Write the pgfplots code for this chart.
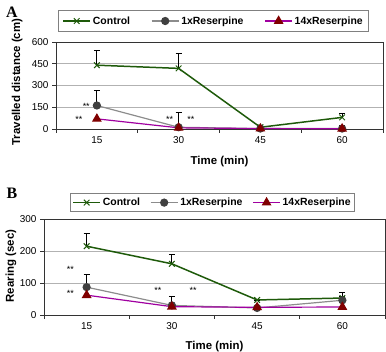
\documentclass[border=0pt]{standalone}
\usepackage{pgfplots}
\pgfplotsset{compat=1.18}
\usepackage{fontspec}
\setmainfont{Liberation Sans}
\newfontfamily\serifb{Liberation Serif}
\definecolor{cgreen}{RGB}{30,90,10}
\definecolor{cgrayline}{RGB}{140,140,140}
\definecolor{cgraymark}{RGB}{64,64,64}
\definecolor{cpurple}{RGB}{160,0,160}
\definecolor{cdred}{RGB}{128,0,0}
\pgfplotsset{
  common/.style={
    scale only axis, anchor=south west,
    xmin=-0.5, xmax=3.5, ymin=0,
    xtick={0,1,2,3}, xticklabels={15,30,45,60},
    minor xtick={-0.5,0.5,1.5,2.5,3.5},
    major x tick style={draw=none},
    minor tick length=4bp, major tick length=4bp,
    tick align=outside, xtick pos=bottom, ytick pos=left,
    ymajorgrids, grid style={gray!60, line width=0.8pt},
    axis line style={black!80, line width=0.8pt},
    tick style={black!80, line width=0.8pt},
    clip=false,
    tick label style={font=\fontsize{10}{12}\selectfont},
    /pgf/number format/assume math mode=true,
    label style={font=\fontsize{11.5}{13}\selectfont\bfseries},
    xlabel={Time (min)},
    legend columns=3,
    legend cell align=left,
    legend image code/.code={\draw[mark repeat=2,mark phase=2] plot coordinates {(0bp,0bp)(13.5bp,0bp)(27bp,0bp)};},
  },
  ctrl/.style={color=cgreen, line width=1.5pt, mark=x, mark size=4bp, mark options={solid, line width=1pt}},
  onex/.style={color=cgrayline, line width=1.2pt, mark=*, mark size=3.5bp, mark options={solid, fill=cgraymark, draw=cgraymark}},
  fourt/.style={color=cpurple, line width=1.2pt, mark=triangle*, mark size=4.5bp, mark options={solid, fill=cdred, draw=cdred}},
  ebar/.style={error bars/.cd, y dir=plus, y explicit, error bar style={black, line width=0.8pt}, error mark options={rotate=90, black, mark size=3bp, line width=0.8pt}},
}
\begin{document}
\begin{tikzpicture}
\useasboundingbox (0,0) rectangle (386bp,352bp);
% Panel A
\begin{axis}[common,
  at={(56bp,223bp)}, width=327bp, height=87bp,
  ymax=600, ytick={0,150,300,450,600},
  ylabel={Travelled distance (cm)},
  ylabel style={at={(axis description cs:-0.119,0.54)}, anchor=center},
  xlabel style={at={(axis description cs:0.5,-0.37)}, anchor=center},
  legend style={at={(axis description cs:0.006,1.368)}, anchor=north west, draw=gray, line width=1pt, fill=white,
    font=\fontsize{10.5}{12}\selectfont\bfseries, inner ysep=4bp, inner xsep=4bp,
    /tikz/every even column/.append style={column sep=19bp}},
]
\addplot[ctrl, ebar] table[x=x, y=y, y error=e] {
x y e
0 440 103
1 418 106
2 12 0
3 80 25
};
\addlegendentry{Control}
\addplot[onex, ebar] table[x=x, y=y, y error=e] {
x y e
0 162 103
1 12 104
2 3 0
3 3 20
};
\addlegendentry{1xReserpine}
\addplot[fourt] table[x=x, y=y] {
x y
0 70
1 8
2 3
3 2
};
\addlegendentry{14xReserpine}
\node[font=\fontsize{9}{10}\selectfont] at (axis cs:-0.13,159) {**};
\node[font=\fontsize{9}{10}\selectfont] at (axis cs:-0.22,69) {**};
\node[font=\fontsize{9}{10}\selectfont] at (axis cs:0.89,69) {**};
\node[font=\fontsize{9}{10}\selectfont] at (axis cs:1.15,69) {**};
\end{axis}
\node[font=\fontsize{16}{18}\selectfont\serifb\bfseries] at (12bp,340bp) {A};
% Panel B
\begin{axis}[common,
  at={(44bp,37bp)}, width=341bp, height=96bp,
  ymax=300, ytick={0,100,200,300},
  ylabel={Rearing (sec)},
  ylabel style={at={(axis description cs:-0.097,0.51)}, anchor=center},
  xlabel style={at={(axis description cs:0.5,-0.33)}, anchor=center},
  legend style={at={(axis description cs:0.076,1.27)}, anchor=north west, draw=gray, line width=1pt, fill=white,
    font=\fontsize{10.5}{12}\selectfont\bfseries, inner ysep=2.5bp, inner xsep=2bp,
    /tikz/every even column/.append style={column sep=8bp}},
]
\addplot[ctrl, ebar] table[x=x, y=y, y error=e] {
x y e
0 215 41
1 160 29
2 47 0
3 53 19
};
\addlegendentry{Control}
\addplot[onex, ebar] table[x=x, y=y, y error=e] {
x y e
0 87 40
1 30 28
2 22 0
3 46 12
};
\addlegendentry{1xReserpine}
\addplot[fourt] table[x=x, y=y] {
x y
0 62
1 26
2 24
3 25
};
\addlegendentry{14xReserpine}
\node[font=\fontsize{9}{10}\selectfont] at (axis cs:-0.19,141) {**};
\node[font=\fontsize{9}{10}\selectfont] at (axis cs:-0.19,66) {**};
\node[font=\fontsize{9}{10}\selectfont] at (axis cs:0.835,78) {**};
\node[font=\fontsize{9}{10}\selectfont] at (axis cs:1.25,78) {**};
\end{axis}
\node[font=\fontsize{16}{18}\selectfont\serifb\bfseries] at (12bp,159bp) {B};
\end{tikzpicture}
\end{document}
